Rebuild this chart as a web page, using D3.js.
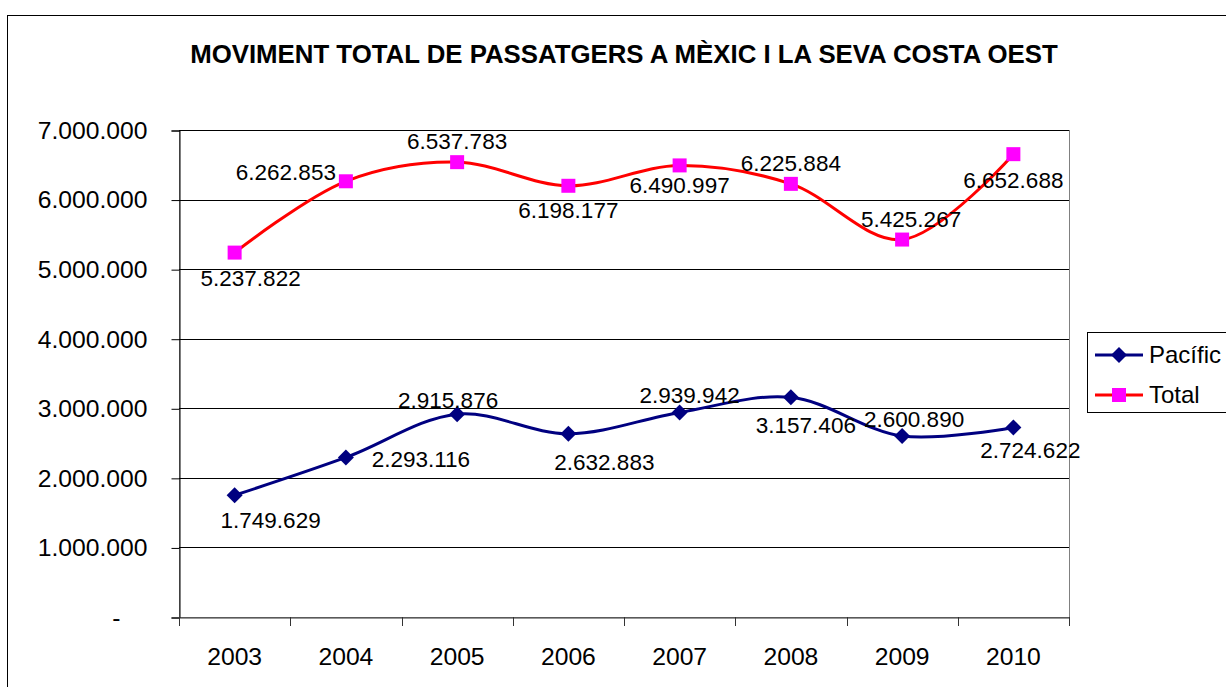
<!DOCTYPE html>
<html>
<head>
<meta charset="utf-8">
<script src="https://cdn.jsdelivr.net/npm/d3@7"></script>
<style>
  body { margin: 0; background: #fff; }
  svg { font-family: "Liberation Sans", Arial, sans-serif; }
</style>
</head>
<body>
<div id="chart"></div>
<script>
const years = ["2003", "2004", "2005", "2006", "2007", "2008", "2009", "2010"];
const pacific = [1749629, 2293116, 2915876, 2632883, 2939942, 3157406, 2600890, 2724622];
const total = [5237822, 6262853, 6537783, 6198177, 6490997, 6225884, 5425267, 6652688];
const yTicks = [0, 1000000, 2000000, 3000000, 4000000, 5000000, 6000000, 7000000];

// label placement, picked by hand like in the original sheet
const totalLabelPos = [[16, 26], [-60, -9], [0, -21], [0, 24], [0, 20], [0, -21], [9, -20], [0, 26]];
const pacificLabelPos = [[36, 25], [75, 2], [-9, -14], [36, 28], [10, -17], [15, 28], [12, -17], [17, 23]];

const width = 1226;
const height = 687;

const svg = d3.select("#chart")
  .append("svg")
  .attr("width", width)
  .attr("height", height);

// chart border
svg.append("rect")
  .attr("x", 7.5)
  .attr("y", 15.5)
  .attr("width", 1300)
  .attr("height", 800)
  .attr("fill", "none")
  .attr("stroke", "black");

svg.append("text")
  .attr("x", 624)
  .attr("y", 63)
  .attr("text-anchor", "middle")
  .attr("font-weight", "bold")
  .attr("font-size", 25.8)
  .text("MOVIMENT TOTAL DE PASSATGERS A MÈXIC I LA SEVA COSTA OEST");

const area = { left: 179, right: 1069, top: 130, bottom: 617 };

const xScale = d3.scaleBand()
  .domain(years)
  .range([area.left, area.right]);

const yScale = d3.scaleLinear()
  .domain([0, 7000000])
  .range([area.bottom, area.top]);

// plot area border
svg.append("rect")
  .attr("x", area.left + 0.5)
  .attr("y", area.top + 0.5)
  .attr("width", area.right - area.left)
  .attr("height", area.bottom - area.top)
  .attr("fill", "none")
  .attr("stroke", "#808080");

// gridlines
svg.append("g")
  .selectAll("line")
  .data(yTicks.filter(d => d > 0))
  .join("line")
  .attr("x1", area.left)
  .attr("x2", area.right)
  .attr("y1", d => Math.round(yScale(d)) + 0.5)
  .attr("y2", d => Math.round(yScale(d)) + 0.5)
  .attr("stroke", "#000")
  .attr("stroke-width", 1);

// y axis
const yAxis = d3.axisLeft(yScale)
  .tickValues(yTicks)
  .tickSize(8)
  .tickPadding(24)
  .tickFormat(d => d === 0 ? "-" : d3.format(",")(d).replace(/,/g, "."));

const yG = svg.append("g")
  .attr("transform", `translate(${area.left + 0.5}, 0.5)`)
  .call(yAxis);
yG.select(".domain").attr("stroke", "#000");
yG.selectAll("text")
  .attr("font-size", 24.7)
  .attr("fill", "#000")
  .attr("font-family", "Liberation Sans, Arial, sans-serif");
yG.selectAll(".tick")
  .filter(d => d === 0)
  .select("text")
  .attr("x", -59);

// x axis
const xAxis = d3.axisBottom(xScale)
  .tickSize(0)
  .tickPadding(30);

const xG = svg.append("g")
  .attr("transform", `translate(0, ${area.bottom + 0.5})`)
  .call(xAxis);
xG.select(".domain").attr("stroke", "#333");
xG.selectAll("text")
  .attr("font-size", 24.7)
  .attr("fill", "#000")
  .attr("font-family", "Liberation Sans, Arial, sans-serif");

// x tick marks on band edges
svg.append("g")
  .selectAll("line")
  .data(years.concat(["end"]))
  .join("line")
  .attr("x1", (d, i) => Math.round(area.left + i * xScale.step()) + 0.5)
  .attr("x2", (d, i) => Math.round(area.left + i * xScale.step()) + 0.5)
  .attr("y1", area.bottom)
  .attr("y2", area.bottom + 9)
  .attr("stroke", "#333");

const cx = d => xScale(d) + xScale.bandwidth() / 2;

const line = d3.line()
  .x(d => cx(d[0]))
  .y(d => yScale(d[1]))
  .curve(d3.curveCatmullRom.alpha(0.5));

// square markers for Total, square turned 45deg for the diamonds
function marker(sel, shape) {
  if (shape === "square") {
    sel.attr("d", d3.symbol().type(d3.symbolSquare).size(196));
  } else {
    sel.attr("d", d3.symbol().type(d3.symbolSquare).size(128));
  }
}

function drawSeries(values, color, markerColor, shape, labelPos) {
  const pts = years.map((y, i) => [y, values[i]]);

  svg.append("path")
    .datum(pts)
    .attr("d", line)
    .attr("fill", "none")
    .attr("stroke", color)
    .attr("stroke-width", 3);

  svg.append("g")
    .selectAll("path")
    .data(pts)
    .join("path")
    .call(marker, shape)
    .attr("transform", d => `translate(${cx(d[0])}, ${yScale(d[1])})` + (shape === "square" ? "" : " rotate(45)"))
    .attr("fill", markerColor);

  svg.append("g")
    .selectAll("text")
    .data(pts)
    .join("text")
    .attr("x", (d, i) => cx(d[0]) + labelPos[i][0])
    .attr("y", (d, i) => yScale(d[1]) + labelPos[i][1])
    .attr("dy", "0.35em")
    .attr("text-anchor", "middle")
    .attr("font-size", 22.5)
    .text(d => d3.format(",")(d[1]).replace(/,/g, "."));
}

drawSeries(total, "#FF0000", "#FF00FF", "square", totalLabelPos);
drawSeries(pacific, "#000080", "#000080", "diamond", pacificLabelPos);

// legend
const legend = svg.append("g");
legend.append("rect")
  .attr("x", 1087.5)
  .attr("y", 332.5)
  .attr("width", 200)
  .attr("height", 80)
  .attr("fill", "#fff")
  .attr("stroke", "#000");

const legendItems = [
  { name: "Pacífic", color: "#000080", marker: "#000080", shape: "diamond", y: 355 },
  { name: "Total", color: "#FF0000", marker: "#FF00FF", shape: "square", y: 395 }
];

legendItems.forEach(item => {
  legend.append("line")
    .attr("x1", 1095)
    .attr("x2", 1143)
    .attr("y1", item.y)
    .attr("y2", item.y)
    .attr("stroke", item.color)
    .attr("stroke-width", 3);
  legend.append("path")
    .call(marker, item.shape)
    .attr("transform", `translate(1119, ${item.y})` + (item.shape === "square" ? "" : " rotate(45)"))
    .attr("fill", item.marker);
  legend.append("text")
    .attr("x", 1149)
    .attr("y", item.y)
    .attr("dy", "0.35em")
    .attr("font-size", 24)
    .text(item.name);
});
</script>
</body>
</html>
